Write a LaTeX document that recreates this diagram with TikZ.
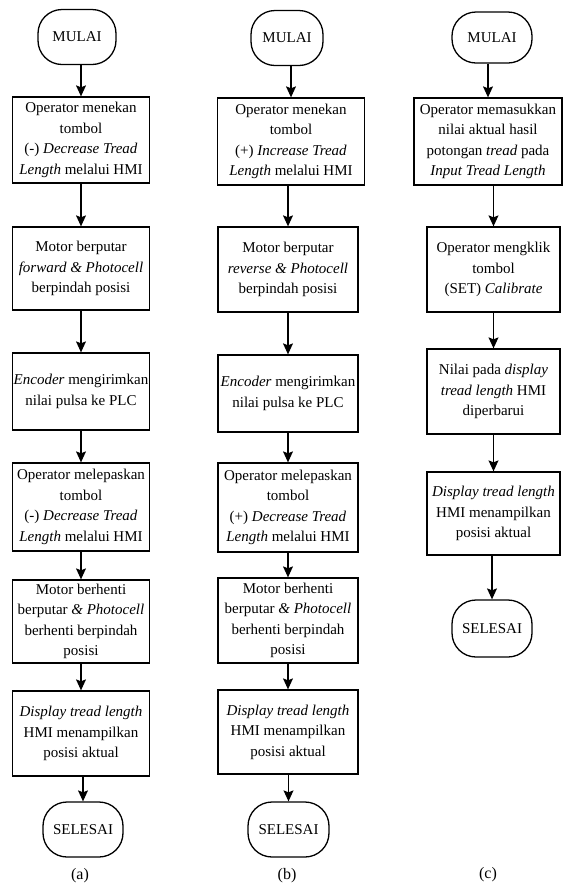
\documentclass[tikz,border=0pt]{standalone}
\usepackage{fontspec}
\setmainfont{LiberationSerif}[Extension=.ttf,UprightFont=*-Regular,ItalicFont=*-Italic,BoldFont=*-Bold,BoldItalicFont=*-BoldItalic]
\usetikzlibrary{arrows.meta}

\begin{document}
\begin{tikzpicture}[x=1pt,y=-1pt,
  box/.style={draw,line width=1.3pt,align=center,inner sep=0pt,font=\fontsize{15}{20.5}\selectfont},
  term/.style={draw,line width=1.3pt,rounded corners=24pt,minimum width=78pt,minimum height=55pt,font=\fontsize{15}{18}\selectfont},
  flow/.style={line width=1.2pt,-{Stealth[length=11pt,width=10pt,inset=2pt]}},
  sublabel/.style={font=\fontsize{16}{18}\selectfont}]
  \useasboundingbox (0,0) rectangle (563,887);

  % (a) decrease
  \node[term] (a0) at (77,37) {MULAI};
  \node[box,minimum width=137pt,minimum height=86pt] (a1) at (81,140) {Operator menekan\\ tombol\\ (-) \textit{Decrease Tread}\\ \textit{Length} melalui HMI};
  \node[box,minimum width=137pt,minimum height=83pt] (a2) at (81,268.5) {Motor berputar\\ \textit{forward \& Photocell}\\ berpindah posisi};
  \node[box,minimum width=137pt,minimum height=77pt] (a3) at (81,391.5) {\textit{Encoder} mengirimkan\\ nilai pulsa ke PLC};
  \node[box,minimum width=137pt,minimum height=88pt] (a4) at (81,507) {Operator melepaskan\\ tombol\\ (-) \textit{Decrease Tread}\\ \textit{Length} melalui HMI};
  \node[box,minimum width=137pt,minimum height=83pt] (a5) at (81,621.5) {Motor berhenti\\ berputar \textit{\& Photocell}\\ berhenti berpindah\\ posisi};
  \node[box,minimum width=137pt,minimum height=85pt] (a6) at (81,733.5) {\textit{Display tread length}\\ HMI menampilkan\\ posisi aktual};
  \node[term,minimum width=80pt] (a7) at (83,829.5) {SELESAI};
  \node[sublabel] (capa) at (80,876) {(a)};

  % (b) increase
  \node[term,minimum width=72pt] (b0) at (287,38) {MULAI};
  \node[box,minimum width=147pt,minimum height=87pt] (b1) at (291,141.5) {Operator menekan\\ tombol\\ (+) \textit{Increase Tread}\\ \textit{Length} melalui HMI};
  \node[box,minimum width=140pt,minimum height=85pt] (b2) at (288,269.5) {Motor berputar\\ \textit{reverse \& Photocell}\\ berpindah posisi};
  \node[box,minimum width=140pt,minimum height=77pt] (b3) at (288,393.5) {\textit{Encoder} mengirimkan\\ nilai pulsa ke PLC};
  \node[box,minimum width=140pt,minimum height=89pt] (b4) at (288,507.5) {Operator melepaskan\\ tombol\\ (+) \textit{Decrease Tread}\\ \textit{Length} melalui HMI};
  \node[box,minimum width=140pt,minimum height=85pt] (b5) at (288,620.5) {Motor berhenti\\ berputar \textit{\& Photocell}\\ berhenti berpindah\\ posisi};
  \node[box,minimum width=140pt,minimum height=84pt] (b6) at (288,732) {\textit{Display tread length}\\ HMI menampilkan\\ posisi aktual};
  \node[term,minimum width=81pt] (b7) at (288.5,829.5) {SELESAI};
  \node[sublabel] (capb) at (287,876) {(b)};

  % (c) calibrate
  \node[term,minimum width=80pt,minimum height=51pt] (c0) at (492,37.5) {MULAI};
  \node[box,minimum width=148pt,minimum height=87pt] (c1) at (488,141.5) {Operator memasukkan\\ nilai aktual hasil\\ potongan \textit{tread} pada\\ \textit{Input Tread Length}};
  \node[box,minimum width=133pt,minimum height=85pt] (c2) at (493.5,269.5) {Operator mengklik\\ tombol\\ (SET) \textit{Calibrate}};
  \node[box,minimum width=133pt,minimum height=85pt] (c3) at (493.5,391.5) {Nilai pada \textit{display}\\ \textit{tread length} HMI\\ diperbarui};
  \node[box,minimum width=133pt,minimum height=83pt] (c4) at (493.5,513.5) {\textit{Display tread length}\\ HMI menampilkan\\ posisi aktual};
  \node[term,minimum width=80pt,minimum height=57pt] (c5) at (492,628.5) {SELESAI};
  \node[sublabel] (capc) at (488,875) {(c)};

  \foreach \u/\v in {a0/a1,a1/a2,a2/a3,a3/a4,a4/a5,a5/a6,a6/a7,
                     b0/b1,b1/b2,b2/b3,b3/b4,b4/b5,b5/b6,b6/b7,
                     c0/c1,c1/c2,c2/c3,c3/c4,c4/c5}
    \draw[flow] (\u.south -| \v.north) -- (\v.north);
\end{tikzpicture}
\end{document}
